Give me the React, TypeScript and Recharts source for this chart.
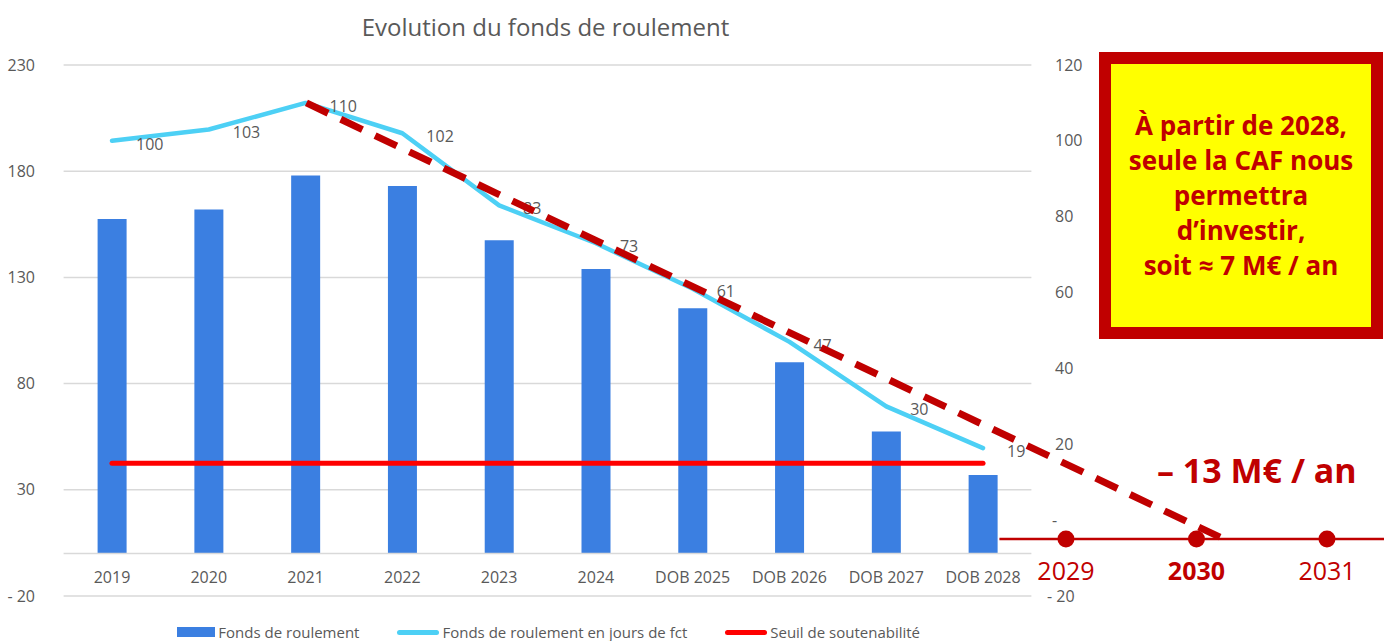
import React from 'react'
import {
  ComposedChart,
  Bar,
  Line,
  XAxis,
  YAxis,
  CartesianGrid,
  Legend,
  LabelList,
  ReferenceLine,
} from 'recharts'

// chart values
const categories = ['2019', '2020', '2021', '2022', '2023', '2024', 'DOB 2025', 'DOB 2026', 'DOB 2027', 'DOB 2028']
const fondsRoulement = [157.5, 162, 178, 173, 147.5, 134, 115.5, 90, 57.5, 37]
const joursFct = [100, 103, 110, 102, 83, 73, 61, 47, 30, 19]
const seuilJours = [15, 15, 15, 15, 15, 15, 15, 15, 15, 15]
const leftTicks = [-20, 30, 80, 130, 180, 230]
const rightTicks = [-20, 0, 20, 40, 60, 80, 100, 120]

// projection drawn over the chart (years 2029-2031 + dashed trend), in years / jours units
const projYears = [2029, 2030, 2031]
const projLevel = -5
const projSpan = [2028.49, 2031.44]
const overlayDomain = [2020.832, 2031.437]
const trendFrom = { x: 2023.18, y: 110 } // 2021 point of the jours line
const trendTo = { x: 2030.18, y: -4.5 }

const BLUE = '#3B7FE1'
const CYAN = '#4DD0F5'
const RED = '#FF0000'
const DARK_RED = '#C00000'
const GRAY = '#595959'
const GRID = '#D9D9D9'

const chartData = categories.map((label, i) => ({
  label,
  fonds: fondsRoulement[i],
  jours: joursFct[i],
  seuil: seuilJours[i],
}))

const projData = [
  { x: trendFrom.x, trend: trendFrom.y },
  { x: projSpan[0], axis: projLevel },
  ...projYears.map((yr) => ({ x: yr, axis: projLevel, dot: projLevel, year: String(yr) })),
  { x: trendTo.x, trend: trendTo.y },
  { x: projSpan[1], axis: projLevel },
].sort((a, b) => a.x - b.x)

const legendItems = [
  { name: 'Fonds de roulement', bar: true, color: BLUE },
  { name: 'Fonds de roulement en jours de fct', bar: false, color: CYAN },
  { name: 'Seuil de soutenabilité', bar: false, color: RED },
]

const fmtLeft = (v: number) => (v < 0 ? `- ${Math.abs(v)}` : String(v))

const CategoryTick = ({ x, y, payload }: any) => (
  <text x={x} y={y - 19} dy="0.35em" textAnchor="middle" fill={GRAY} fontSize={16}>
    {payload.value}
  </text>
)

const RightTick = ({ x, y, payload }: any) => {
  const v = payload.value
  const label = v === 0 ? '-' : v < 0 ? `- ${Math.abs(v)}` : String(v)
  const dx = v < 0 ? -8 : v === 0 ? -3 : 0
  return (
    <text x={x + dx} y={y} dy="0.35em" textAnchor="start" fill={GRAY} fontSize={16}>
      {label}
    </text>
  )
}

const YearLabel = (props: any) => {
  const px = props.viewBox?.x ?? props.x
  const py = props.viewBox?.y ?? props.y
  if (props.value == null) return null
  return (
    <text
      x={px}
      y={py + 32}
      dy="0.35em"
      textAnchor="middle"
      fill={DARK_RED}
      fontSize={25}
      fontWeight={props.value === '2030' ? 700 : 400}
    >
      {props.value}
    </text>
  )
}

const LegendContent = () => (
  <div
    style={{
      display: 'flex',
      justifyContent: 'center',
      alignItems: 'center',
      height: 16,
      gap: 38,
      fontSize: 15,
      color: GRAY,
      paddingLeft: 6,
    }}
  >
    {legendItems.map((it) => (
      <div key={it.name} style={{ display: 'flex', alignItems: 'center' }}>
        <span
          style={{
            display: 'inline-block',
            width: it.bar ? 38 : 42,
            height: it.bar ? 10 : 5,
            borderRadius: it.bar ? 0 : 3,
            background: it.color,
            marginRight: 3,
          }}
        />
        <span>{it.name}</span>
      </div>
    ))}
  </div>
)

export default function App() {
  return (
    <div
      style={{
        position: 'absolute',
        left: 0,
        top: 0,
        width: 1384,
        height: 641,
        overflow: 'hidden',
        background: '#fff',
        fontFamily: '"Open Sans", sans-serif',
      }}
    >
      <ComposedChart width={1384} height={641} data={chartData} margin={{ top: 65, right: 292.6, bottom: 5, left: 0 }}>
        <CartesianGrid yAxisId="left" vertical={false} stroke={GRID} strokeWidth={1.5} />
        <XAxis
          dataKey="label"
          axisLine={false}
          tickLine={false}
          tickSize={0}
          tickMargin={0}
          height={24}
          interval={0}
          tick={<CategoryTick />}
        />
        <YAxis
          yAxisId="left"
          domain={[-20, 230]}
          ticks={leftTicks}
          width={63.6}
          axisLine={false}
          tickLine={false}
          tickSize={0}
          tickMargin={28.6}
          tickFormatter={fmtLeft}
          tick={{ fill: GRAY, fontSize: 16 }}
        />
        <YAxis
          yAxisId="right"
          orientation="right"
          domain={[-20, 120]}
          ticks={rightTicks}
          width={60}
          axisLine={false}
          tickLine={false}
          tickSize={0}
          tickMargin={23.6}
          tick={<RightTick />}
        />
        <ReferenceLine yAxisId="left" y={0} stroke={GRID} strokeWidth={1.5} />
        <Legend content={<LegendContent />} verticalAlign="bottom" wrapperStyle={{ bottom: 1 }} />
        <Bar yAxisId="left" dataKey="fonds" name="Fonds de roulement" fill={BLUE} barSize={29} isAnimationActive={false} />
        <Line
          yAxisId="right"
          dataKey="seuil"
          name="Seuil de soutenabilité"
          type="linear"
          stroke={RED}
          strokeWidth={5}
          strokeLinecap="round"
          dot={false}
          activeDot={false}
          isAnimationActive={false}
        />
        <Line
          yAxisId="right"
          dataKey="jours"
          name="Fonds de roulement en jours de fct"
          type="linear"
          stroke={CYAN}
          strokeWidth={4.5}
          strokeLinecap="round"
          strokeLinejoin="round"
          dot={false}
          activeDot={false}
          isAnimationActive={false}
        >
          <LabelList dataKey="jours" position="right" offset={24} dy={3} fill={GRAY} fontSize={16} />
        </Line>
      </ComposedChart>

      {/* projection overlay: same vertical scale as the right axis */}
      <div style={{ position: 'absolute', left: 0, top: 0, pointerEvents: 'none' }}>
        <ComposedChart width={1384} height={641} data={projData} margin={{ top: 65, right: 0, bottom: 45, left: 0 }}>
          <XAxis dataKey="x" type="number" domain={overlayDomain} allowDataOverflow hide />
          <YAxis domain={[-20, 120]} allowDataOverflow hide />
          <Line
            dataKey="axis"
            type="linear"
            stroke={DARK_RED}
            strokeWidth={2.5}
            dot={false}
            activeDot={false}
            connectNulls
            isAnimationActive={false}
          />
          <Line
            dataKey="trend"
            type="linear"
            stroke={DARK_RED}
            strokeWidth={7}
            strokeDasharray="24 14"
            dot={false}
            activeDot={false}
            connectNulls
            isAnimationActive={false}
          />
          <Line
            dataKey="dot"
            type="linear"
            stroke="none"
            dot={{ r: 8.5, fill: DARK_RED, stroke: 'none' }}
            activeDot={false}
            isAnimationActive={false}
          >
            <LabelList dataKey="year" content={<YearLabel />} />
          </Line>
        </ComposedChart>
      </div>

      <div
        style={{
          position: 'absolute',
          left: 0,
          top: 12,
          width: 1091,
          textAlign: 'center',
          fontSize: 24,
          lineHeight: '30px',
          color: GRAY,
        }}
      >
        Evolution du fonds de roulement
      </div>

      <div
        style={{
          position: 'absolute',
          left: 1099,
          top: 52,
          width: 284,
          height: 287,
          boxSizing: 'border-box',
          border: `12px solid ${DARK_RED}`,
          background: '#FFFF00',
          display: 'flex',
          alignItems: 'center',
          justifyContent: 'center',
          textAlign: 'center',
          color: DARK_RED,
          fontWeight: 700,
          fontSize: 26,
          lineHeight: '35px',
        }}
      >
        <div>
          À partir de 2028,
          <br />
          seule la CAF nous
          <br />
          permettra
          <br />
          d’investir,
          <br />
          soit ≈ 7 M€ / an
        </div>
      </div>

      <div
        style={{
          position: 'absolute',
          left: 1157,
          top: 449,
          fontSize: 34,
          lineHeight: '42px',
          fontWeight: 700,
          color: DARK_RED,
          whiteSpace: 'nowrap',
        }}
      >
        – 13 M€ / an
      </div>
    </div>
  )
}
